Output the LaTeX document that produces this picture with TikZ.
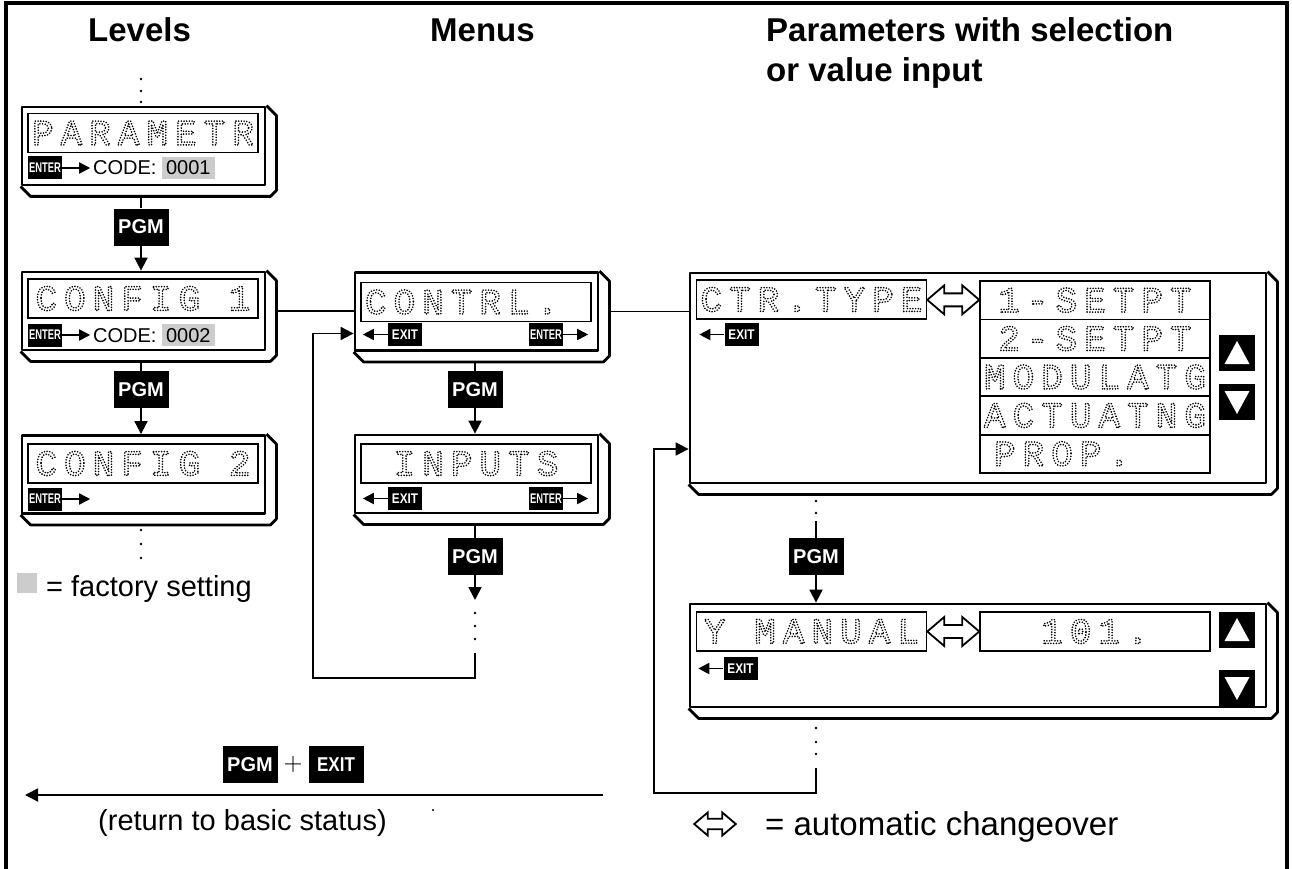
\documentclass[tikz,border=0pt]{standalone}
\usepackage{graphicx}
\usepackage{fontspec}
\setmainfont{Liberation Sans}
\newfontfamily\lcdfont{Liberation Mono}[LetterSpace=19.5]
\usetikzlibrary{calc,arrows.meta}
\definecolor{factorygray}{gray}{0.8}
\newcommand{\factory}[1]{{\fboxsep=4pt\colorbox{factorygray}{#1}}}
\newcommand{\lcd}[1]{\special{pdf:literal direct 1 J [0 2.7] 0 d 1.8 w 1 Tr}#1\special{pdf:literal direct 0 Tr [] 0 d}}
\newcommand{\bevel}[1]{%
  \draw[panel] (#1.north east) -- ++(10,10) -- ($(#1.south east)+(10,4)$) -- ($(#1.south east)+(4,10)$) -- ($(#1.south west)+(10,10)$) -- (#1.south west);
  \coordinate (#1 low) at ($(#1.south)+(0,10)$);
  \coordinate (#1 side) at ($(#1.east)+(10,0)$);}

\begin{document}
\begin{tikzpicture}[x=1pt,y=-1pt,
    panel/.style={draw, line width=2.8pt, line join=round},
    face/.style={panel, minimum width=243, minimum height=78, inner sep=0},
    lcdbox/.style={draw, line width=1.8pt, minimum width=230, minimum height=39, inner sep=0, font=\lcdfont\fontsize{36}{36}\selectfont},
    pgmkey/.style={fill=black, text=white, minimum width=55, minimum height=37, inner sep=0, font=\bfseries\fontsize{20}{20}\selectfont},
    smallkey/.style={fill=black, text=white, minimum width=34, minimum height=23, inner sep=0, font=\bfseries\fontsize{14}{14}\selectfont},
    arrowkey/.style={fill=black, minimum width=36, minimum height=36, inner sep=0},
    head/.style={inner sep=0, font=\bfseries\fontsize{33}{40}\selectfont},
    body/.style={inner sep=0, font=\fontsize{29}{29}\selectfont},
    code/.style={inner sep=0, anchor=base west, font=\fontsize{20}{20}\selectfont},
    conn/.style={line width=1.8pt},
    arr/.style={conn, -{Triangle[length=13pt,width=13pt]}},
    keyarr/.style={line width=1.8pt, -{Triangle[length=11pt,width=11pt]}},
    changeover/.pic={\draw[line width=1.8pt, fill=white] (-26,0) -- (-9,-14.5) -- (-9,-6.5) -- (9,-6.5) -- (9,-14.5) -- (26,0) -- (9,14.5) -- (9,6.5) -- (-9,6.5) -- (-9,14.5) -- cycle;}]
  \useasboundingbox (0,0) rectangle (1292,869);
  \draw[line width=4pt] (6,869) -- (6,3) -- (1287,3) -- (1287,869);

  % column titles
  \node[head, anchor=base west] (hlev) at (88,42) {Levels};
  \node[head, anchor=base west] (hmen) at (430,42) {Menus};
  \node[head, anchor=north west, align=left] (hpar) at (766,17) {Parameters with selection\\or value input};

  % levels
  \fill (141,79) circle (1.3pt) (141,91) circle (1.3pt) (141,102) circle (1.3pt);
  \node[face] (par) at (143.5,146) {};
  \bevel{par}
  \node[lcdbox] (lpar) at (143,133) {\lcd{PARAMETR}};
  \node[smallkey] (ent1) at (45,168) {\scalebox{0.67}[1]{ENTER}};
  \draw[keyarr] (ent1.east) -- ++(28,0);
  \node[code] (code1) at (93,175) {CODE: \factory{0001}};

  \node[pgmkey] (pgm1) at (141,227) {PGM};
  \node[face] (cfg1) at (143.5,311) {};
  \bevel{cfg1}
  \node[lcdbox] (lcfg1) at (143,298.5) {\lcd{CONFIG 1}};
  \node[smallkey] (ent2) at (45,335) {\scalebox{0.67}[1]{ENTER}};
  \draw[keyarr] (ent2.east) -- ++(28,0);
  \node[code] (code2) at (93,342) {CODE: \factory{0002}};

  \node[pgmkey] (pgm2) at (141,389.5) {PGM};
  \node[face] (cfg2) at (143.5,474.5) {};
  \bevel{cfg2}
  \node[lcdbox] (lcfg2) at (143,463.5) {\lcd{CONFIG 2}};
  \node[smallkey] (ent3) at (45,499) {\scalebox{0.67}[1]{ENTER}};
  \draw[keyarr] (ent3.east) -- ++(28,0);
  \fill (141,530) circle (1.3pt) (141,544) circle (1.3pt) (141,558) circle (1.3pt);

  \draw[conn] (pgm1.north) -- (pgm1.north |- par low);
  \draw[arr] (pgm1.south) -- (pgm1.south |- cfg1.north);
  \draw[conn] (pgm2.north) -- (pgm2.north |- cfg1 low);
  \draw[arr] (pgm2.south) -- (pgm2.south |- cfg2.north);

  \node[fill=factorygray, minimum size=20, inner sep=0] (fsq) at (27,583) {};
  \node[body, anchor=base west] (ftxt) at (46,596) {= factory setting};

  % menus
  \node[face] (ctrl) at (476.5,311.5) {};
  \bevel{ctrl}
  \node[lcdbox, text width=222, align=left] (lctrl) at (476,302) {\lcd{CONTRL.}};
  \node[smallkey] (ex1) at (405,334.5) {\scalebox{0.84}[1]{EXIT}};
  \draw[keyarr] (ex1.west) -- ++(-25,0);
  \node[smallkey] (ent4) at (546,334.5) {\scalebox{0.67}[1]{ENTER}};
  \draw[keyarr] (ent4.east) -- ++(25,0);

  \node[pgmkey] (pgm3) at (475,389.5) {PGM};
  \node[face] (inp) at (476.5,474) {};
  \bevel{inp}
  \node[lcdbox] (linp) at (476,463.5) {\lcd{INPUTS}};
  \node[smallkey] (ex2) at (405,498.5) {\scalebox{0.84}[1]{EXIT}};
  \draw[keyarr] (ex2.west) -- ++(-25,0);
  \node[smallkey] (ent5) at (546,498.5) {\scalebox{0.67}[1]{ENTER}};
  \draw[keyarr] (ent5.east) -- ++(25,0);

  \node[pgmkey] (pgm4) at (475,556.5) {PGM};
  \coordinate (inpnext) at (475,600);
  \coordinate (inploop) at (475,653);
  \fill (475,613) circle (1.3pt) (475,626) circle (1.3pt) (475,639) circle (1.3pt);

  \draw[conn] (cfg1 side) -- (cfg1 side -| ctrl.west);
  \draw[conn] (pgm3.north) -- (pgm3.north |- ctrl low);
  \draw[arr] (pgm3.south) -- (pgm3.south |- inp.north);
  \draw[conn] (pgm4.north) -- (pgm4.north |- inp low);
  \draw[arr] (pgm4.south) -- (inpnext);
  \draw[arr] (inploop) |- (313,678) |- ($(ctrl.west)+(0,22)$);

  % parameters
  \node[face, minimum width=576, minimum height=210] (ctr) at (978,378) {};
  \bevel{ctr}
  \node[lcdbox] (lctr) at (811.5,299.5) {\lcd{CTR.TYPE}};
  \node[lcdbox, minimum height=38.4] (opt1) at (1095,300.2) {\lcd{1-SETPT}};
  \node[lcdbox, minimum height=38.4] (opt2) at (1095,338.6) {\lcd{2-SETPT}};
  \node[lcdbox, minimum height=38.4] (opt3) at (1095,377) {\lcd{MODULATG}};
  \node[lcdbox, minimum height=38.4] (opt4) at (1095,415.4) {\lcd{ACTUATNG}};
  \node[lcdbox, minimum height=38.4, text width=202, align=left] (opt5) at (1095,453.8) {\lcd{PROP.}};
  \pic at ($(lctr.east)!0.5!(opt1.west)$) {changeover};
  \node[smallkey] (ex3) at (741.5,334.5) {\scalebox{0.84}[1]{EXIT}};
  \draw[keyarr] (ex3.west) -- ++(-25,0);
  \node[arrowkey] (up1) at (1237,353) {};
  \fill[white] ($(up1)+(-12.5,11)$) -- ($(up1)+(12.5,11)$) -- ($(up1)+(0,-12)$) -- cycle;
  \node[arrowkey] (dn1) at (1237,402) {};
  \fill[white] ($(dn1)+(-12.5,-11)$) -- ($(dn1)+(12.5,-11)$) -- ($(dn1)+(0,12)$) -- cycle;

  \fill (816,501) circle (1.3pt) (816,513) circle (1.3pt);
  \coordinate (ctrnext) at (816,521);
  \node[pgmkey] (pgm5) at (816,556.5) {PGM};

  \node[face, minimum width=576, minimum height=103] (yman) at (978,655.5) {};
  \bevel{yman}
  \node[lcdbox] (lyman) at (811.5,631.5) {\lcd{Y MANUAL}};
  \node[lcdbox] (lval) at (1095,631.5) {\lcd{101.}};
  \pic at ($(lyman.east)!0.5!(lval.west)$) {changeover};
  \node[smallkey] (ex4) at (740.5,668.5) {\scalebox{0.84}[1]{EXIT}};
  \draw[keyarr] (ex4.west) -- ++(-25,0);
  \node[arrowkey] (up2) at (1237,630) {};
  \fill[white] ($(up2)+(-12.5,11)$) -- ($(up2)+(12.5,11)$) -- ($(up2)+(0,-12)$) -- cycle;
  \node[arrowkey] (dn2) at (1237,688) {};
  \fill[white] ($(dn2)+(-12.5,-11)$) -- ($(dn2)+(12.5,-11)$) -- ($(dn2)+(0,12)$) -- cycle;

  \fill (816,728) circle (1.3pt) (816,742) circle (1.3pt) (816,754) circle (1.3pt);
  \coordinate (ymanloop) at (816,768);

  \draw[conn] (ctrl side) -- (ctrl side -| ctr.west);
  \draw[conn] (ctrnext) -- (pgm5.north);
  \draw[arr] (pgm5.south) -- (pgm5.south |- yman.north);
  \draw[arr] (ymanloop) |- (654,793) |- ($(ctr.west)+(0,71)$);

  % return to basic status
  \node[pgmkey] (retpgm) at (250,764.5) {PGM};
  \node[inner sep=0] (plus) at (293,764.5) {\resizebox{19pt}{!}{$+$}};
  \node[pgmkey] (retexit) at (336,764.5) {\scalebox{0.85}[1]{EXIT}};
  \coordinate (retR) at (603,795);
  \coordinate (retL) at (25,795);
  \draw[arr] (retR) -- (retL);
  \node[body, anchor=base west] (rettxt) at (98,830) {(return to basic status)};
  \fill (433,810) circle (1.2pt);

  \pic[scale=0.8] at (715,824) {changeover};
  \node[body, anchor=base west, font=\fontsize{33}{33}\selectfont] (ctxt) at (765,835) {= automatic changeover};
\end{tikzpicture}
\end{document}
